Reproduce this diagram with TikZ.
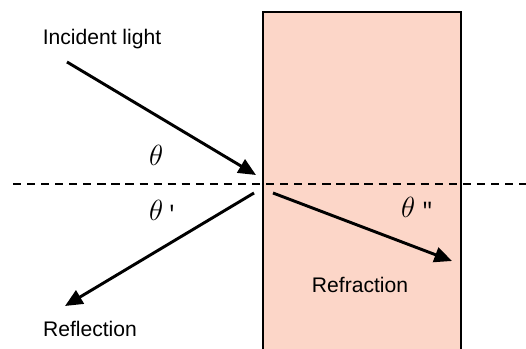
\documentclass[tikz,border=0pt]{standalone}
\usepackage{fontspec}
\setmainfont{Liberation Sans}
\setmonofont{Liberation Mono}
\usetikzlibrary{arrows.meta}
\definecolor{glass}{RGB}{252,214,200}

\begin{document}
\begin{tikzpicture}[
  x=0.03cm, y=-0.03cm,
  font=\fontsize{18}{20}\selectfont,
  txt/.style={inner sep=0pt, anchor=base},
  ang/.style={inner sep=0pt, anchor=base west, font=\fontsize{25}{28}\selectfont},
  ray/.style={-{Triangle[length=15pt, width=13pt]}, line width=2.5pt},
  normal/.style={dash pattern=on 7pt off 5pt, line width=1.1pt}
]
\useasboundingbox (0,0) rectangle (526,349);
\draw[fill=glass, line width=0.9pt] (263,12) rectangle (461,360);
\draw[normal] (13,184) -- (526,184);
\coordinate (src)   at (67,62);
\coordinate (hit)   at (256,175);
\coordinate (rflA)  at (254,193);
\coordinate (rflB)  at (65,306);
\coordinate (rfrA)  at (273,193);
\coordinate (rfrB)  at (452,261);
\node[txt] (inc)  at (102,45)  {Incident light};
\node[txt] (rfl)  at (90,337)  {Reflection};
\node[txt] (rfr)  at (360,293) {Refraction};
\node[ang] (th)   at (149,166) {$\theta$};
\node[ang] (thA)  at (149,221) {$\theta$\hspace{2pt}{\fontsize{18}{20}\selectfont\texttt{'}}};
\node[ang] (thB)  at (401,218) {$\theta$\hspace{5pt}{\fontsize{18}{20}\selectfont\texttt{"}}};
\draw[ray] (src)  -- (hit);
\draw[ray] (rflA) -- (rflB);
\draw[ray] (rfrA) -- (rfrB);
\end{tikzpicture}
\end{document}
